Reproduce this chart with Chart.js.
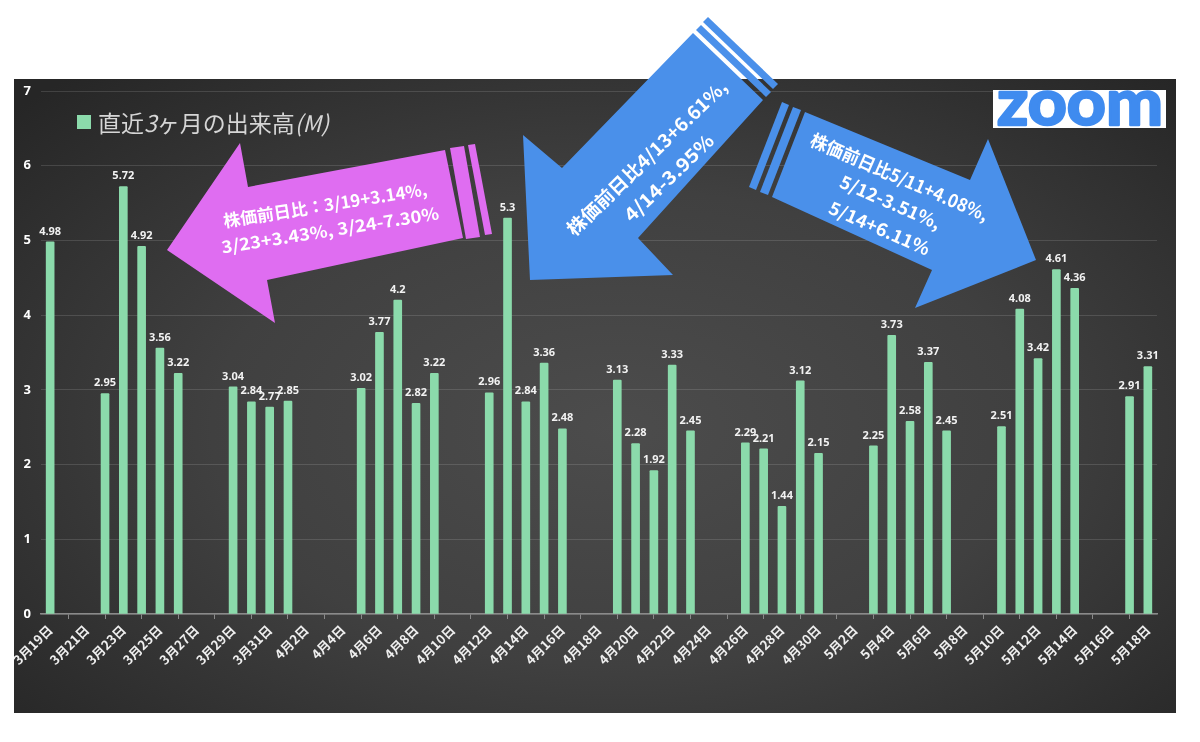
<!DOCTYPE html>
<html>
<head>
<meta charset="utf-8">
<script src="https://cdn.jsdelivr.net/npm/chart.js@4.4.1/dist/chart.umd.min.js"></script>
<style>
  body { margin: 0; width: 1200px; height: 742px; background: #fff; position: relative; overflow: hidden; }
  #frame {
    position: absolute; left: 14px; top: 79px; width: 1162px; height: 634px;
    background: radial-gradient(ellipse 70% 75% at 52% 55%, #4c4c4c 0%, #404040 50%, #262626 100%);
  }
  #chart { position: absolute; left: 0; top: 0; }
  #legend {
    position: absolute; left: 77px; top: 106px; height: 32px; display: flex; align-items: center;
    font-family: "Noto Sans CJK JP", sans-serif; font-size: 23px; color: #d6d6d6;
  }
  #legend .box { width: 14px; height: 14px; background: #8bdaab; margin-right: 7px; }
  #overlay { position: absolute; left: 0; top: 0; }
</style>
</head>
<body>
<div id="frame"><canvas id="chart" width="1162" height="634"></canvas></div>
<div id="legend"><span class="box"></span><span>直近<i>3</i>ヶ月の出来高<i>(M)</i></span></div>
<svg id="overlay" width="1200" height="742" viewBox="0 0 1200 742">
  <!-- pink arrow -->
  <g fill="#df6df1">
    <polygon points="167,250 240,143 248,187 445,150 463,238 267,280 275,323"/>
    <polygon points="450,148 464,146 480,237 466,239"/>
    <polygon points="468,145 475,144 492,234 485,235"/>
  </g>
  <!-- blue arrow, down-left -->
  <g fill="#4a90ea">
    <polygon points="530,280 673,275 638,238 763,100 693,33 562,168 523,135"/>
    <polygon points="696,30 766,97 771,92 701,25"/>
    <polygon points="703,22 773,89 778,84 708,17"/>
  </g>
  <!-- blue arrow, down-right -->
  <g fill="#4a90ea">
    <polygon points="772,197 805,112 970,180 988,139 1036,260 915,308 932,270"/>
    <polygon points="801,110 768,195 760,192 793,107"/>
    <polygon points="789,105 756,190 749,187 782,102"/>
  </g>
  <g fill="#ffffff" font-family="Noto Sans CJK JP" font-weight="700" text-anchor="middle" dominant-baseline="central" lengthAdjust="spacingAndGlyphs">
    <text transform="translate(325,204) rotate(-9)" font-size="17" textLength="206" lengthAdjust="spacingAndGlyphs">株価前日比：3/19+3.14%,</text>
    <text transform="translate(330,229) rotate(-9)" font-size="17" textLength="220" lengthAdjust="spacingAndGlyphs">3/23+3.43%, 3/24-7.30%</text>
    <text transform="translate(646,157) rotate(-44)" font-size="18.5" textLength="214" lengthAdjust="spacingAndGlyphs">株価前日比4/13+6.61%,</text>
    <text transform="translate(668,177) rotate(-44)" font-size="18.5" textLength="116" lengthAdjust="spacingAndGlyphs">4/14-3.95%</text>
    <text transform="translate(900,176) rotate(23.5)" font-size="18" textLength="192" lengthAdjust="spacingAndGlyphs">株価前日比5/11+4.08%,</text>
    <text transform="translate(891,201) rotate(23.5)" font-size="18" textLength="108" lengthAdjust="spacingAndGlyphs">5/12-3.51%,</text>
    <text transform="translate(880,227) rotate(23.5)" font-size="18" textLength="108" lengthAdjust="spacingAndGlyphs">5/14+6.11%</text>
  </g>
  <!-- logo -->
  <rect x="993" y="90" width="173" height="38" fill="#ffffff"/>
  <text x="997" y="125" font-family="Lato" font-weight="700" font-size="64" fill="#3f8bef" stroke="#3f8bef" stroke-width="2.5" stroke-linejoin="round" textLength="166" lengthAdjust="spacingAndGlyphs">zoom</text>
</svg>

<script>
const dates = [
  '3月19日','3月20日','3月21日','3月22日','3月23日','3月24日','3月25日','3月26日','3月27日','3月28日',
  '3月29日','3月30日','3月31日','4月1日','4月2日','4月3日','4月4日','4月5日','4月6日','4月7日',
  '4月8日','4月9日','4月10日','4月11日','4月12日','4月13日','4月14日','4月15日','4月16日','4月17日',
  '4月18日','4月19日','4月20日','4月21日','4月22日','4月23日','4月24日','4月25日','4月26日','4月27日',
  '4月28日','4月29日','4月30日','5月1日','5月2日','5月3日','5月4日','5月5日','5月6日','5月7日',
  '5月8日','5月9日','5月10日','5月11日','5月12日','5月13日','5月14日','5月15日','5月16日','5月17日',
  '5月18日'
];

// volume in millions, null = no trading that day
const volumes = [
  4.98, null, null, 2.95, 5.72, 4.92, 3.56, 3.22, null, null,
  3.04, 2.84, 2.77, 2.85, null, null, null, 3.02, 3.77, 4.2,
  2.82, 3.22, null, null, 2.96, 5.3, 2.84, 3.36, 2.48, null,
  null, 3.13, 2.28, 1.92, 3.33, 2.45, null, null, 2.29, 2.21,
  1.44, 3.12, 2.15, null, null, 2.25, 3.73, 2.58, 3.37, 2.45,
  null, null, 2.51, 4.08, 3.42, 4.61, 4.36, null, null, 2.91,
  3.31
];

const yTicks = [0, 1, 2, 3, 4, 5, 6, 7];

// value labels above each bar
const barValueLabels = {
  id: 'barValueLabels',
  afterDatasetsDraw(chart) {
    const ctx = chart.ctx;
    const meta = chart.getDatasetMeta(0);
    ctx.save();
    ctx.font = 'bold 11px "Noto Sans"';
    ctx.fillStyle = '#f2f2f2';
    ctx.textAlign = 'center';
    ctx.textBaseline = 'bottom';
    meta.data.forEach((bar, i) => {
      const v = volumes[i];
      if (v == null) return;
      ctx.fillText(String(v), bar.x, bar.y - 5);
    });
    ctx.restore();
  }
};

new Chart(document.getElementById('chart'), {
  type: 'bar',
  data: {
    labels: dates,
    datasets: [{
      label: '直近3ヶ月の出来高(M)',
      data: volumes,
      backgroundColor: '#8bdaab',
      barThickness: 8,
      borderRadius: 1
    }]
  },
  options: {
    responsive: false,
    animation: false,
    layout: { padding: { top: 12, right: 19, left: 0, bottom: 0 } },
    plugins: {
      legend: { display: false },
      tooltip: { enabled: false }
    },
    scales: {
      x: {
        offset: true,
        grid: { drawOnChartArea: false, tickLength: 5, color: '#8a8a8a', lineWidth: 1 },
        border: { color: '#8a8a8a', width: 1.5 },
        ticks: {
          autoSkip: false,
          minRotation: 45,
          maxRotation: 45,
          padding: 3,
          color: '#eeeeee',
          font: { family: '"Noto Sans CJK JP"', size: 13, weight: 'bold' },
          callback: (value, index) => index % 2 === 0 ? dates[index] : null
        },
        afterFit(scale) {
          scale.height = 99;
          scale.paddingLeft = 0;
          scale.paddingRight = 0;
        }
      },
      y: {
        min: yTicks[0],
        max: yTicks[yTicks.length - 1],
        grid: { color: 'rgba(255,255,255,0.13)', drawTicks: false },
        border: { display: false },
        ticks: {
          stepSize: 1,
          padding: 10,
          color: '#ffffff',
          font: { family: '"Noto Sans"', size: 13, weight: 'bold' }
        },
        afterFit(scale) {
          scale.width = 27;
          scale.paddingTop = 0;
          scale.paddingBottom = 0;
        }
      }
    }
  },
  plugins: [barValueLabels]
});
</script>
</body>
</html>
